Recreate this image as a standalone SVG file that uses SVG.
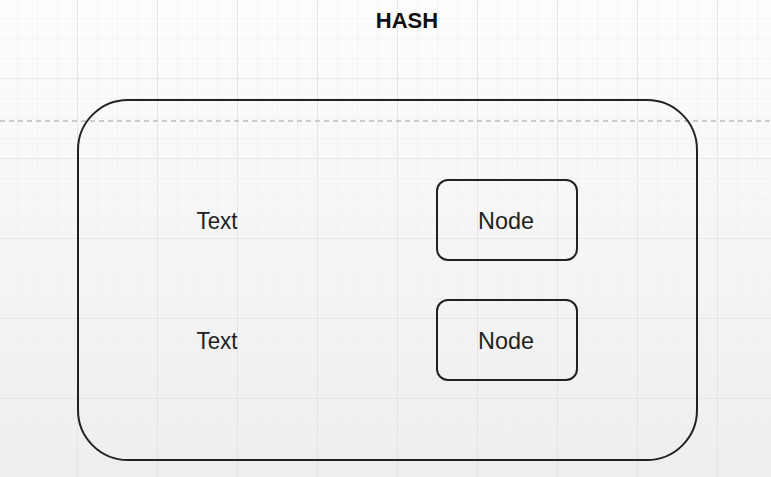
<svg xmlns="http://www.w3.org/2000/svg" width="771" height="477" viewBox="0 0 771 477">
  <defs>
    <linearGradient id="bg" x1="0" y1="0" x2="0" y2="1">
      <stop offset="0" stop-color="#fdfdfd"/>
      <stop offset="0.4" stop-color="#f7f7f7"/>
      <stop offset="1" stop-color="#eeeeee"/>
    </linearGradient>
    <pattern id="minor" x="-2" y="-1" width="20" height="20" patternUnits="userSpaceOnUse">
      <path d="M20 0 V20 M0 20 H20" fill="none" stroke="#ececec" stroke-width="1"/>
    </pattern>
    <pattern id="major" x="-2" y="-1" width="80" height="80" patternUnits="userSpaceOnUse">
      <path d="M80 0 V80 M0 80 H80" fill="none" stroke="#dcdcdc" stroke-width="1.2"/>
    </pattern>
  </defs>
  <style>
    .box { fill: none; stroke: #222; stroke-width: 2; }
    .lbl { font-family: "Liberation Sans", Arial, sans-serif; font-size: 24px; fill: #222; text-anchor: middle; }
    .title { font-family: "Liberation Sans", Arial, sans-serif; font-size: 22px; font-weight: bold; fill: #111; text-anchor: middle; }
  </style>
  <rect width="771" height="477" fill="url(#bg)"/>
  <rect width="771" height="477" fill="url(#minor)"/>
  <rect width="771" height="477" fill="url(#major)"/>
  <line x1="0" y1="121" x2="771" y2="121" stroke="#bdbdbd" stroke-width="1.5" stroke-dasharray="5,4"/>
  <text class="title" x="407" y="28">HASH</text>
  <g id="hash">
    <rect class="box" x="78" y="100" width="619" height="360" rx="50" ry="50"/>
  </g>
  <g id="text1"><text class="lbl" x="217" y="228.5" textLength="41" lengthAdjust="spacingAndGlyphs">Text</text></g>
  <g id="text2"><text class="lbl" x="217" y="348.5" textLength="41" lengthAdjust="spacingAndGlyphs">Text</text></g>
  <g id="node1">
    <rect class="box" x="437" y="180" width="140" height="80" rx="11" ry="11"/>
    <text class="lbl" x="506" y="228.5" textLength="56" lengthAdjust="spacingAndGlyphs">Node</text>
  </g>
  <g id="node2">
    <rect class="box" x="437" y="300" width="140" height="80" rx="11" ry="11"/>
    <text class="lbl" x="506" y="348.5" textLength="56" lengthAdjust="spacingAndGlyphs">Node</text>
  </g>
  <g id="connectors"></g>
</svg>
